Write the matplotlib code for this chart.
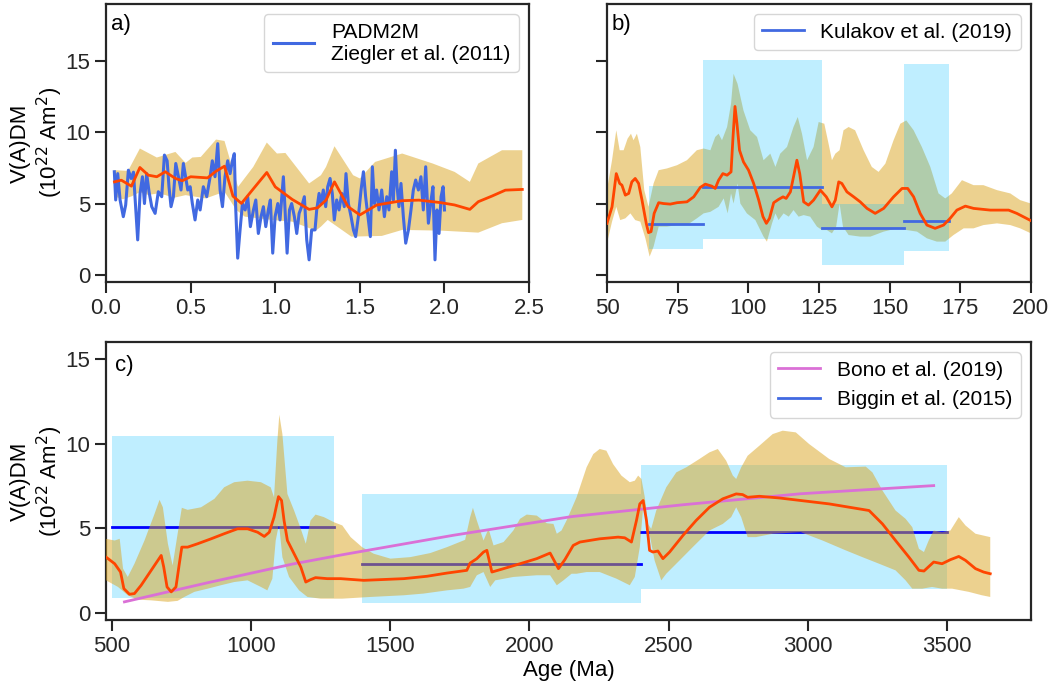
import numpy as np
import matplotlib
matplotlib.use("Agg")
import matplotlib.pyplot as plt
from matplotlib.lines import Line2D

# --- data: panel a (0-2.5 Ma) ---
a_med_age = [0.05, 0.09, 0.15, 0.2, 0.25, 0.3, 0.35, 0.41, 0.45, 0.5, 0.6, 0.65, 0.7, 0.75, 0.8,
             0.88, 0.95, 1.0, 1.1, 1.2, 1.25, 1.3, 1.35, 1.43, 1.5, 1.6, 1.75, 1.85, 1.98, 2.06,
             2.15, 2.2, 2.28, 2.36, 2.46]
a_med = [6.52, 6.64, 6.22, 7.53, 6.99, 6.88, 7.23, 6.76, 6.6, 6.88, 6.8, 7.27, 7.62, 5.52, 5.01,
         6.17, 7.18, 6.17, 5.29, 4.59, 4.7, 5.24, 6.52, 4.78, 4.2, 4.9, 5.2, 5.24, 5.06, 4.9,
         4.59, 5.13, 5.52, 5.94, 5.99]
a_up_age = [0.05, 0.13, 0.2, 0.3, 0.41, 0.47, 0.51, 0.56, 0.65, 0.7, 0.78, 0.87, 0.95, 1.01, 1.06,
            1.2, 1.27, 1.3, 1.35, 1.46, 1.5, 1.59, 1.75, 1.93, 2.06, 2.15, 2.2, 2.34, 2.46]
a_up = [7.34, 7.29, 8.86, 8.23, 8.62, 7.85, 8.23, 8.27, 9.49, 9.39, 6.17, 7.57, 9.28, 8.51, 8.55,
        6.41, 6.99, 7.57, 9.02, 6.99, 6.76, 7.92, 8.51, 7.81, 7.22, 6.52, 7.81, 8.74, 8.74]
a_lo_age = [0.05, 0.1, 0.15, 0.2, 0.25, 0.3, 0.35, 0.4, 0.47, 0.59, 0.7, 0.77, 0.82, 0.98, 1.1,
            1.24, 1.27, 1.31, 1.45, 1.63, 1.75, 1.98, 2.2, 2.34, 2.46]
a_lo = [5.5, 5.3, 5.5, 5.8, 5.6, 5.7, 5.6, 5.4, 5.59, 5.36, 5.83, 4.55, 4.08, 3.85, 3.73,
        3.1, 3.38, 3.85, 2.68, 2.73, 3.15, 3.1, 2.96, 3.62, 3.85]

# PADM2M (Ziegler et al. 2011)
padm_age = [0.049, 0.057, 0.069, 0.083, 0.102, 0.116, 0.132, 0.148, 0.162, 0.175, 0.187, 0.201,
            0.215, 0.227, 0.240, 0.254, 0.270, 0.290, 0.309, 0.329, 0.345, 0.361, 0.372, 0.384,
            0.398, 0.412, 0.428, 0.443, 0.457, 0.467, 0.483, 0.497, 0.510, 0.526, 0.542, 0.556,
            0.575, 0.595, 0.615, 0.628, 0.644, 0.660, 0.674, 0.688, 0.703, 0.719, 0.733, 0.747,
            0.758, 0.766, 0.778, 0.792, 0.806, 0.822, 0.837, 0.853, 0.871, 0.885, 0.900, 0.916,
            0.930, 0.944, 0.959, 0.971, 0.985, 0.999, 1.015, 1.028, 1.048, 1.058, 1.070, 1.084,
            1.097, 1.113, 1.127, 1.141, 1.156, 1.172, 1.186, 1.200, 1.215, 1.235, 1.245, 1.259,
            1.270, 1.284, 1.298, 1.310, 1.324, 1.337, 1.349, 1.363, 1.377, 1.393, 1.408, 1.418,
            1.432, 1.448, 1.462, 1.475, 1.491, 1.507, 1.521, 1.534, 1.550, 1.562, 1.574, 1.586,
            1.599, 1.613, 1.629, 1.645, 1.659, 1.672, 1.688, 1.698, 1.710, 1.720, 1.731, 1.743,
            1.757, 1.771, 1.787, 1.802, 1.816, 1.830, 1.846, 1.861, 1.875, 1.889, 1.905, 1.921,
            1.932, 1.944, 1.956, 1.968, 1.980, 1.992, 2.000]
padm_vadm = [7.23, 5.25, 7.1, 5.25, 4.08, 4.9, 7.34, 6.76, 7.2, 4.78, 2.45, 5.71,
             6.88, 5.0, 7.1, 5.83, 4.78, 4.31, 5.83, 5.48, 8.4, 8.0, 6.18, 4.78,
             5.48, 7.81, 6.88, 5.95, 7.81, 7.1, 5.95, 6.18, 5.0, 3.85, 5.25, 4.55,
             6.18, 5.48, 6.88, 8.0, 6.88, 9.2, 5.95, 4.78, 6.88, 8.0, 7.1, 8.0,
             8.5, 4.78, 1.17, 3.15, 5.0, 4.55, 5.48, 3.38, 4.55, 5.25, 2.9, 4.08,
             4.78, 3.38, 4.55, 5.25, 1.52, 4.08, 5.0, 3.85, 6.88, 4.55, 1.52, 4.55,
             5.0, 4.08, 2.9, 4.31, 4.78, 5.48, 2.45, 1.05, 3.15, 3.15, 4.55, 5.71,
             5.0, 5.95, 4.78, 6.18, 6.76, 5.71, 3.85, 5.25, 4.55, 5.71, 4.78, 7.1,
             5.0, 4.08, 3.15, 2.68, 4.08, 5.95, 7.23, 5.48, 3.85, 2.68, 7.58, 5.0,
             5.95, 4.55, 5.95, 4.08, 5.48, 4.55, 7.23, 5.25, 8.74, 6.18, 4.78, 6.41,
             4.08, 2.22, 3.15, 4.55, 5.95, 6.65, 5.95, 6.88, 4.55, 7.58, 3.62, 5.25,
             6.18, 1.05, 4.55, 2.9, 5.48, 6.18, 4.55]

# --- data: panel b (50-200 Ma) ---
b_med_age = [50, 51.8, 53.3, 54.5, 55.3, 56.5, 57.7, 58.8, 60, 61.2, 62.4, 63.9, 64.7, 65.6, 66.7,
             68.3, 70, 72.4, 74.8, 78.3, 80.7, 83, 84.8, 87.1, 88.3, 89.5, 91, 92.5, 93.9, 94.6,
             95.3, 96, 96.9, 98.3, 100.1, 101.9, 103.7, 105.2, 106.4, 107.5, 109, 110.7, 112.3,
             113.4, 114.9, 116, 117.2, 118.2, 119.6, 121.3, 123.1, 125.5, 127.6, 129.6, 130.8,
             132, 133.1, 134.9, 137.3, 139.6, 142, 144.9, 147.9, 151.4, 154.4, 156.4, 158.5,
             160.8, 163.2, 166.1, 169.1, 171.4, 173.8, 176.8, 179.7, 185.6, 192.1, 195, 200]
b_med = [3.61, 4.77, 7.1, 6.41, 6.29, 5.59, 5.71, 6.52, 6.76, 6.41, 5.24, 3.61, 2.96, 3.03, 4.31,
         5.06, 5.0, 4.96, 5.06, 5.12, 5.47, 6.13, 6.36, 6.22, 6.06, 6.64, 7.1, 6.99, 7.22, 9.67,
         11.81, 10.6, 8.74, 7.92, 7.34, 6.41, 5.24, 4.08, 3.61, 3.96, 5.06, 5.29, 5.47,
         5.36, 5.82, 6.87, 8.04, 7.1, 5.12, 4.89, 5.24, 5.94, 5.47, 4.77, 5.24,
         6.52, 6.41, 5.82, 5.47, 5.12, 4.66, 4.31, 4.66, 5.47, 6.06, 6.06, 5.47,
         4.31, 3.49, 3.26, 3.49, 3.96, 4.54, 4.82, 4.66, 4.54, 4.54, 4.31, 3.80]
b_up_age = [50, 51.8, 53.3, 54.5, 55.9, 57.3, 58.5, 59.4, 60.6, 61.8, 63.2, 64.7, 66.5, 68.3, 71.2,
            74.8, 78.3, 81.8, 84.2, 86.6, 88.3, 89.5, 90.7, 92.5, 93.9, 94.8, 96.2, 98.3, 100.7,
            103.1, 105.4, 107.8, 109.6, 111.3, 113.7, 116, 117.5, 119, 120.8, 123.1, 124.9,
            126.9, 128.4, 129.6, 130.8, 132.3, 133.7, 135.5, 137.8, 140.8, 143.7, 146.1, 148.5,
            151.4, 153.8, 155.9, 158.5, 161.4, 164.4, 167.3, 169.7, 172, 175.6, 179.7, 183.2,
            188, 192.7, 196.2, 200]
b_up = [5.94, 8.04, 10.14, 8.74, 8.74, 9.55, 9.9, 9.44, 9.9, 8.97, 5.94, 4.77, 6.41, 7.34, 7.46,
        7.69, 8.04, 8.74, 8.86, 8.74, 9.67, 9.9, 9.44, 10.37, 12.0, 14.1, 13.4, 11.53, 10.14,
        9.67, 8.04, 8.5, 7.57, 8.5, 8.97, 10.37, 11.07, 9.9, 8.04, 8.97, 10.72,
        10.6, 9.2, 8.04, 8.5, 8.74, 10.14, 10.37, 10.14, 8.74, 7.57, 7.22, 7.8,
        9.44, 10.6, 10.83, 10.14, 8.97, 7.57, 5.71, 5.36, 5.71, 6.64, 6.29, 6.29,
        5.94, 5.71, 5.24, 5.0]
b_lo_age = [50, 51.8, 53.3, 54.7, 56.5, 58.3, 60, 61.8, 63.6, 65.1, 66.5, 68.3, 71.2, 74.8, 78.3,
            81.8, 84.2, 86.6, 89.5, 91.3, 92.7, 93.9, 94.8, 96.2, 97.2, 99.5, 102.5, 105.4, 106.6,
            108.4, 109.6, 110.7, 112.5, 114.3, 116, 117.8, 119.6, 121.9, 124.3, 126.1, 127.8,
            129.6, 131.1, 132.3, 133.5, 135.5, 139.6, 143.2, 147.9, 152.6, 156.1, 159.7, 163.2,
            166.7, 169.7, 172.6, 176.2, 179.7, 183.2, 188, 192.7, 196.2, 200]
b_lo = [2.21, 3.73, 4.77, 3.84, 3.96, 4.31, 3.84, 3.73, 2.56, 1.28, 1.98, 3.38, 3.38, 3.49, 3.49,
        3.96, 4.31, 4.42, 4.77, 5.36, 4.31, 5.71, 5.0, 6.41, 5.0, 4.31, 3.84, 2.68, 2.33,
        3.61, 4.31, 3.84, 4.31, 4.08, 4.54, 4.08, 4.19, 4.08, 3.38, 3.14, 3.14,
        2.91, 3.38, 5.0, 3.38, 2.79, 2.68, 2.68, 3.03, 3.26, 3.14, 3.03, 2.56,
        2.33, 2.33, 2.79, 3.26, 3.26, 3.49, 3.61, 3.49, 3.26, 2.91]

# Kulakov et al. (2019)
kul_start = [65, 84, 126, 155]
kul_end = [84, 126, 155, 171]
kul_val = [3.57, 6.15, 3.29, 3.78]
kul_lo = [1.84, 2.54, 0.7, 1.7]
kul_hi = [6.24, 15.1, 4.97, 14.76]

# --- data: panel c (500-3700 Ma) ---
c_med_age = [480, 511, 532, 544, 564, 582, 606, 642, 678, 687, 699, 714, 731, 743, 752, 773, 809,
             857, 904, 952, 988, 1024, 1048, 1066, 1083, 1099, 1110, 1119, 1131, 1155, 1179, 1197,
             1214, 1232, 1274, 1322, 1405, 1549, 1632, 1704, 1775, 1787, 1811, 1835, 1847, 1865,
             1907, 1966, 2026, 2074, 2104, 2127, 2157, 2181, 2252, 2318, 2342, 2366, 2384, 2396,
             2408, 2420, 2431, 2443, 2461, 2479, 2503, 2551, 2598, 2646, 2694, 2742, 2765, 2783,
             2825, 2897, 2974, 3076, 3219, 3267, 3314, 3362, 3398, 3416, 3451, 3481, 3511, 3541,
             3565, 3601, 3630, 3654]
c_med = [3.31, 2.92, 2.43, 1.45, 1.12, 1.16, 1.65, 2.53, 3.41, 2.73, 1.55, 1.26, 1.55, 2.92, 3.9,
         3.9, 4.1, 4.39, 4.69, 4.98, 4.98, 4.78, 4.53, 4.78, 5.67, 6.88, 6.65, 5.47, 4.29, 3.51,
         2.73, 1.84, 1.98, 2.1, 2.04, 2.04, 1.94, 2.04, 2.18, 2.37, 2.53, 2.96, 3.22, 3.61, 3.71,
         2.43, 2.63, 2.92, 3.22, 3.55, 2.63, 3.16, 4.0, 4.2, 4.39, 4.49, 4.45, 4.2, 5.47, 6.45,
         6.65, 5.47, 3.71, 3.61, 3.67, 3.22, 3.61, 4.59, 5.47, 6.25, 6.75, 7.04, 7.0, 6.84,
         6.9, 6.8, 6.65, 6.45, 6.06, 5.27, 4.29, 3.31, 2.53, 2.49, 3.02, 2.92, 3.16, 3.35,
         3.12, 2.63, 2.43, 2.33]
c_up_age = [480, 511, 529, 541, 558, 582, 618, 654, 672, 684, 702, 719, 737, 752, 773, 821, 869, 904,
            940, 988, 1036, 1071, 1083, 1095, 1102, 1113, 1131, 1155, 1179, 1197, 1214, 1232, 1262,
            1298, 1328, 1358, 1399, 1441, 1501, 1572, 1644, 1704, 1769, 1787, 1797, 1811, 1835,
            1853, 1871, 1907, 1942, 1966, 1990, 2026, 2062, 2086, 2098, 2115, 2133, 2169, 2205,
            2229, 2252, 2276, 2300, 2330, 2360, 2378, 2390, 2402, 2414, 2425, 2437, 2455, 2491,
            2527, 2563, 2610, 2646, 2676, 2706, 2730, 2742, 2760, 2783, 2825, 2873, 2909, 2956,
            3004, 3076, 3135, 3207, 3231, 3267, 3314, 3350, 3374, 3398, 3416, 3433, 3451, 3481,
            3511, 3541, 3565, 3601, 3654]
c_up = [4.39, 4.29, 4.39, 2.63, 2.14, 2.92, 4.29, 5.86, 6.69, 6.25, 4.1, 2.82, 4.69, 6.22, 6.1,
        6.25, 6.75, 7.43, 7.73, 7.82, 7.73, 7.43, 6.84, 10.18, 11.71, 10.57, 7.04, 6.06, 4.98,
        4.1, 5.47, 5.82, 5.67, 5.37, 5.18, 4.49, 3.9, 3.51, 3.22, 3.31, 3.55, 3.9, 4.33, 5.67,
        6.22, 5.47, 4.29, 4.98, 4.0, 4.2, 4.88, 5.57, 5.82, 5.76, 5.31, 5.27, 4.69, 4.88, 5.47,
        6.84, 8.61, 9.39, 9.69, 9.59, 8.8, 8.12, 7.73, 7.82, 8.12, 7.92, 6.84, 5.27, 4.98, 6.06,
        7.43, 8.31, 8.61, 9.1, 9.49, 9.69, 9.0, 8.12, 7.92, 8.61, 9.29, 9.88, 10.57, 10.77,
        10.67, 9.98, 9.1, 8.61, 8.65, 8.31, 7.24, 6.06, 5.57, 5.08, 3.8, 3.61, 4.29, 4.88, 4.78,
        4.88, 5.67, 5.18, 4.69, 4.49]
c_lo_age = [480, 523, 558, 594, 642, 702, 737, 761, 797, 845, 892, 940, 988, 1036, 1059, 1077, 1089,
            1101, 1113, 1137, 1173, 1203, 1250, 1328, 1429, 1549, 1620, 1704, 1763, 1787, 1811,
            1835, 1859, 1877, 1942, 2026, 2074, 2098, 2122, 2151, 2169, 2205, 2252, 2312, 2360,
            2378, 2396, 2410, 2420, 2431, 2449, 2473, 2491, 2539, 2586, 2646, 2694, 2724, 2742,
            2760, 2783, 2813, 2873, 2974, 3052, 3135, 3195, 3255, 3314, 3350, 3374, 3410, 3445,
            3481, 3517, 3577, 3624, 3654]
c_lo = [1.94, 1.55, 1.06, 0.8, 0.76, 0.67, 0.73, 0.96, 1.26, 1.45, 1.65, 1.84, 1.94, 1.55, 1.35,
        2.04, 4.29, 5.27, 3.31, 2.14, 1.35, 0.96, 0.86, 0.86, 0.96, 1.06, 1.16, 1.35, 1.45, 1.55,
        2.24, 2.43, 1.55, 1.94, 2.14, 2.24, 2.24, 1.65, 1.94, 2.33, 2.33, 2.43, 2.43, 2.04, 1.65,
        2.14, 3.9, 6.65, 5.86, 4.69, 3.12, 1.94, 2.33, 3.12, 3.9, 4.88, 5.27, 5.67, 6.25,
        5.67, 4.49, 4.49, 4.69, 4.78, 4.29, 3.71, 3.31, 2.92, 2.53, 1.94, 1.45, 1.45, 1.55,
        1.45, 1.45, 1.26, 1.06, 0.96]

# Bono et al. (2019)
bono_age = [546, 845, 1149, 1328, 1727, 2151, 2551, 2974, 3451]
bono_val = [0.67, 1.8, 2.9, 3.45, 4.6, 5.7, 6.4, 7.05, 7.53]

# Biggin et al. (2015)
big_start = [500, 1400, 2400]
big_end = [1300, 2400, 3500]
big_val = [5.1, 2.9, 4.82]
big_lo = [0.9, 0.6, 1.43]
big_hi = [10.47, 7.06, 8.76]

# --- style ---
plt.rcParams['font.family'] = ['Liberation Sans', 'DejaVu Sans']
plt.rcParams['font.size'] = 16
plt.rcParams['axes.edgecolor'] = '#262626'
plt.rcParams['axes.linewidth'] = 1.6
for ax_ in ('xtick', 'ytick'):
    plt.rcParams[ax_ + '.major.size'] = 8
    plt.rcParams[ax_ + '.major.width'] = 1.5
    plt.rcParams[ax_ + '.color'] = '#262626'
    plt.rcParams[ax_ + '.labelsize'] = 16
plt.rcParams['legend.fontsize'] = 15

RED = 'orangered'
GOLD = 'goldenrod'
CYAN = 'deepskyblue'
YLAB = 'V(A)DM\n(10$^{22}$ Am$^2$)'

fig = plt.figure(figsize=(10.51, 6.86), dpi=100)
ax_a = fig.add_axes([0.1009, 0.589, 0.4025, 0.4052])
ax_b = fig.add_axes([0.5775, 0.589, 0.4034, 0.4052])
ax_c = fig.add_axes([0.1009, 0.0962, 0.880, 0.4052])


def envelope(ax, up_x, up_y, lo_x, lo_y, z):
    xs = list(up_x) + list(lo_x)[::-1]
    ys = list(up_y) + list(lo_y)[::-1]
    ax.fill(xs, ys, color=GOLD, alpha=0.5, lw=0, zorder=z)


# --- a) ---
envelope(ax_a, a_up_age, a_up, a_lo_age, a_lo, 1)
ax_a.plot(padm_age, padm_vadm, color='royalblue', lw=2.2, zorder=2,
          label='PADM2M\nZiegler et al. (2011)')
ax_a.plot(a_med_age, a_med, color=RED, lw=2, zorder=3)
ax_a.set_xlim(0, 2.5)
ax_a.set_ylim(-0.5, 19)
ax_a.set_xticks([0, 0.5, 1.0, 1.5, 2.0, 2.5])
ax_a.set_yticks([0, 5, 10, 15])
ax_a.set_ylabel(YLAB, labelpad=0)
ax_a.legend(loc='upper right')
ax_a.text(0.012, 0.965, 'a)', transform=ax_a.transAxes, va='top', ha='left')

# --- b) ---
envelope(ax_b, b_up_age, b_up, b_lo_age, b_lo, 1)
for s, e, lo, hi in zip(kul_start, kul_end, kul_lo, kul_hi):
    ax_b.fill_between([s, e], [lo, lo], [hi, hi], color=CYAN, alpha=0.25, lw=0, zorder=2)
for s, e, v in zip(kul_start, kul_end, kul_val):
    ax_b.plot([s, e], [v, v], color='royalblue', lw=2, zorder=3)
ax_b.plot(b_med_age, b_med, color=RED, lw=2, zorder=4)
ax_b.set_xlim(50, 200)
ax_b.set_ylim(-0.5, 19)
ax_b.set_xticks([50, 75, 100, 125, 150, 175, 200])
ax_b.set_yticks([0, 5, 10, 15])
ax_b.set_yticklabels([])
ax_b.legend(handles=[Line2D([], [], color='royalblue', lw=2)],
            labels=['Kulakov et al. (2019)'], loc='upper right')
ax_b.text(0.012, 0.965, 'b)', transform=ax_b.transAxes, va='top', ha='left')

# --- c) ---
for s, e, lo, hi in zip(big_start, big_end, big_lo, big_hi):
    ax_c.fill_between([s, e], [lo, lo], [hi, hi], color=CYAN, alpha=0.25, lw=0, zorder=1)
for s, e, v in zip(big_start, big_end, big_val):
    ax_c.plot([s, e], [v, v], color='blue', lw=2, zorder=2)
envelope(ax_c, c_up_age, c_up, c_lo_age, c_lo, 3)
ax_c.plot(bono_age, bono_val, color='orchid', lw=2, zorder=4)
ax_c.plot(c_med_age, c_med, color=RED, lw=2, zorder=5)
ax_c.set_xlim(480, 3800)
ax_c.set_ylim(-0.4, 16)
ax_c.set_xticks([500, 1000, 1500, 2000, 2500, 3000, 3500])
ax_c.set_yticks([0, 5, 10, 15])
ax_c.set_ylabel(YLAB, labelpad=0)
ax_c.set_xlabel('Age (Ma)', labelpad=2)
ax_c.legend(handles=[Line2D([], [], color='orchid', lw=2),
                     Line2D([], [], color='royalblue', lw=2)],
            labels=['Bono et al. (2019)', 'Biggin et al. (2015)'], loc='upper right')
ax_c.text(0.01, 0.955, 'c)', transform=ax_c.transAxes, va='top', ha='left')

fig.savefig('out.png', dpi=100)
